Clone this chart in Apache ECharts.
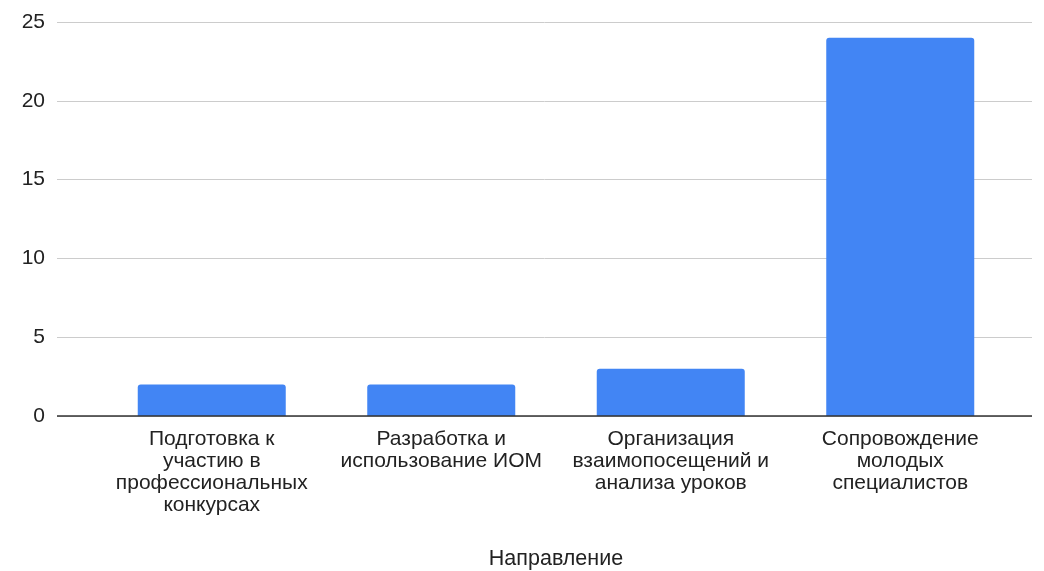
<!DOCTYPE html>
<html>
<head>
<meta charset="utf-8">
<script src="https://cdn.jsdelivr.net/npm/echarts@6/dist/echarts.min.js"></script>
<style>html,body{margin:0;padding:0;background:#fff}#c{width:1044px;height:571px}</style>
</head>
<body>
<div id="c"></div>
<script>
const categories = [
  "Подготовка к\nучастию в\nпрофессиональных\nконкурсах",
  "Разработка и\nиспользование ИОМ",
  "Организация\nвзаимопосещений и\nанализа уроков",
  "Сопровождение\nмолодых\nспециалистов"
];
const values = [2, 2, 3, 24];
const yTicks = { min: 0, max: 25, interval: 5 };
const xName = "Направление";

const font = "'Liberation Sans', Arial, sans-serif";
const chart = echarts.init(document.getElementById('c'));
chart.setOption({
  animation: false,
  grid: [
    { left: 57, right: 12, top: 22, bottom: 155, containLabel: false, outerBoundsMode: 'none' },
    { left: 97, right: 29, top: 22, bottom: 155, containLabel: false, outerBoundsMode: 'none' }
  ],
  xAxis: [
    { gridIndex: 0, type: 'category', data: categories, show: false },
    { gridIndex: 1, type: 'category', data: categories,
      axisLine: { show: false }, axisTick: { show: false },
      axisLabel: { fontFamily: font, fontSize: 21, color: '#222', lineHeight: 22, margin: 12, interval: 0 },
      name: xName, nameLocation: 'middle', nameGap: 132,
      nameTextStyle: { fontFamily: font, fontSize: 21.5, color: '#222' }
    }
  ],
  yAxis: [
    { gridIndex: 0, type: 'value', min: yTicks.min, max: yTicks.max, interval: yTicks.interval,
      axisLine: { show: false }, axisTick: { show: false },
      axisLabel: { fontFamily: font, fontSize: 21, color: '#222', margin: 12 },
      splitLine: { lineStyle: { color: '#cccccc', width: 1 } }
    },
    { gridIndex: 1, type: 'value', min: yTicks.min, max: yTicks.max, interval: yTicks.interval, show: false,
      splitLine: { show: false } }
  ],
  series: [
    { type: 'bar', xAxisIndex: 1, yAxisIndex: 1, data: values, barWidth: 148,
      itemStyle: { color: '#4285f4', borderRadius: [3, 3, 0, 0] } },
    { type: 'line', xAxisIndex: 0, yAxisIndex: 0, data: [],
      markLine: { silent: true, symbol: 'none', label: { show: false },
        lineStyle: { color: '#333', width: 1.5, type: 'solid' }, data: [{ yAxis: 0 }] } }
  ]
});
</script>
</body>
</html>
